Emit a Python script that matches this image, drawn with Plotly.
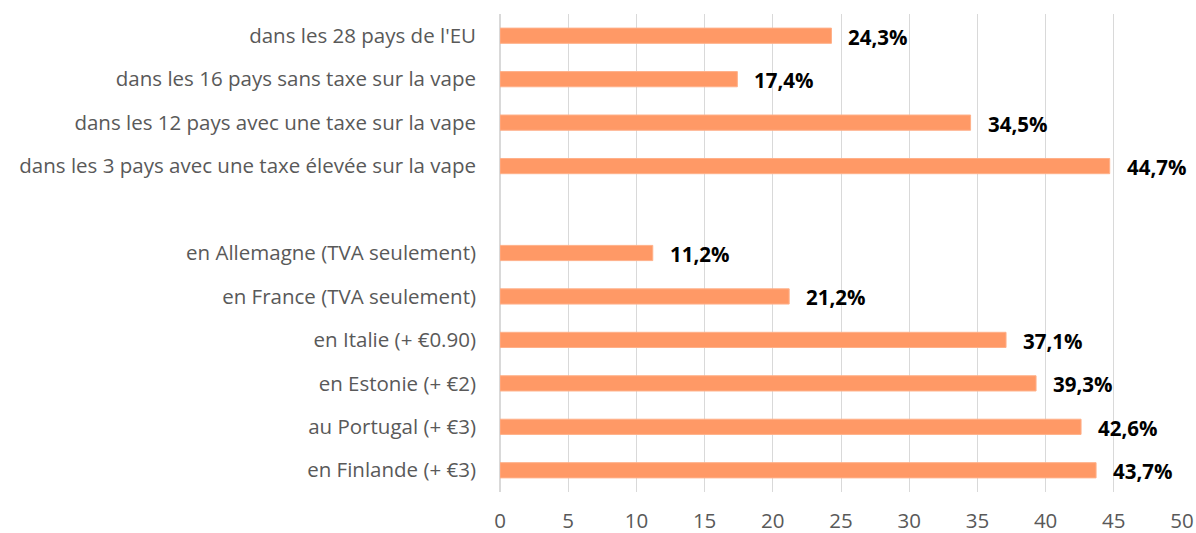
import plotly.graph_objects as go

categories = [
    "dans les 28 pays de l'EU",
    "dans les 16 pays sans taxe sur la vape",
    "dans les 12 pays avec une taxe sur la vape",
    "dans les 3 pays avec une taxe élevée sur la vape",
    " ",
    "en Allemagne (TVA seulement)",
    "en France (TVA seulement)",
    "en Italie (+ €0.90)",
    "en Estonie (+ €2)",
    "au Portugal (+ €3)",
    "en Finlande (+ €3)",
]
values = [24.3, 17.4, 34.5, 44.7, None, 11.2, 21.2, 37.1, 39.3, 42.6, 43.7]
x_ticks = [0, 5, 10, 15, 20, 25, 30, 35, 40, 45, 50]

FONT = "Open Sans"
FS = 20.5

fig = go.Figure()
fig.add_trace(go.Bar(
    y=categories,
    x=values,
    orientation="h",
    marker=dict(color="#FF9966", line=dict(color="#FFB089", width=1)),
    hoverinfo="x+y",
))

for c, v in zip(categories, values):
    if v is None:
        continue
    fig.add_annotation(
        x=v, y=c, xref="x", yref="y",
        text="<b>" + f"{v:.1f}".replace(".", ",") + "%</b>",
        showarrow=False, xanchor="left", yanchor="middle", xshift=15, yshift=-1,
        font=dict(family=FONT, size=FS, color="#000000"),
    )

fig.update_layout(
    width=1196, height=533,
    margin=dict(l=500, r=14, t=14, b=41, autoexpand=False),
    plot_bgcolor="white", paper_bgcolor="white",
    bargap=0.65,
    showlegend=False,
    font=dict(family=FONT, size=FS, color="#595959"),
)
fig.update_xaxes(
    range=[0, 50], tickvals=x_ticks, showgrid=True, gridcolor="#D9D9D9", gridwidth=1,
    zeroline=True, zerolinecolor="#D9D9D9", showline=False, ticks="",
    tickfont=dict(family=FONT, size=FS, color="#595959"), ticklabelstandoff=14,
    automargin=False,
)
fig.update_yaxes(
    categoryorder="array", categoryarray=categories, autorange="reversed",
    showgrid=False, zeroline=False, showline=False, ticks="", ticklabelstandoff=23,
    tickfont=dict(family=FONT, size=FS, color="#595959"),
    automargin=False,
)
fig.write_html(
    "out.html",
    config={"displayModeBar": False},
    post_script="document.body.style.margin='0';document.body.style.overflow='hidden';",
)
